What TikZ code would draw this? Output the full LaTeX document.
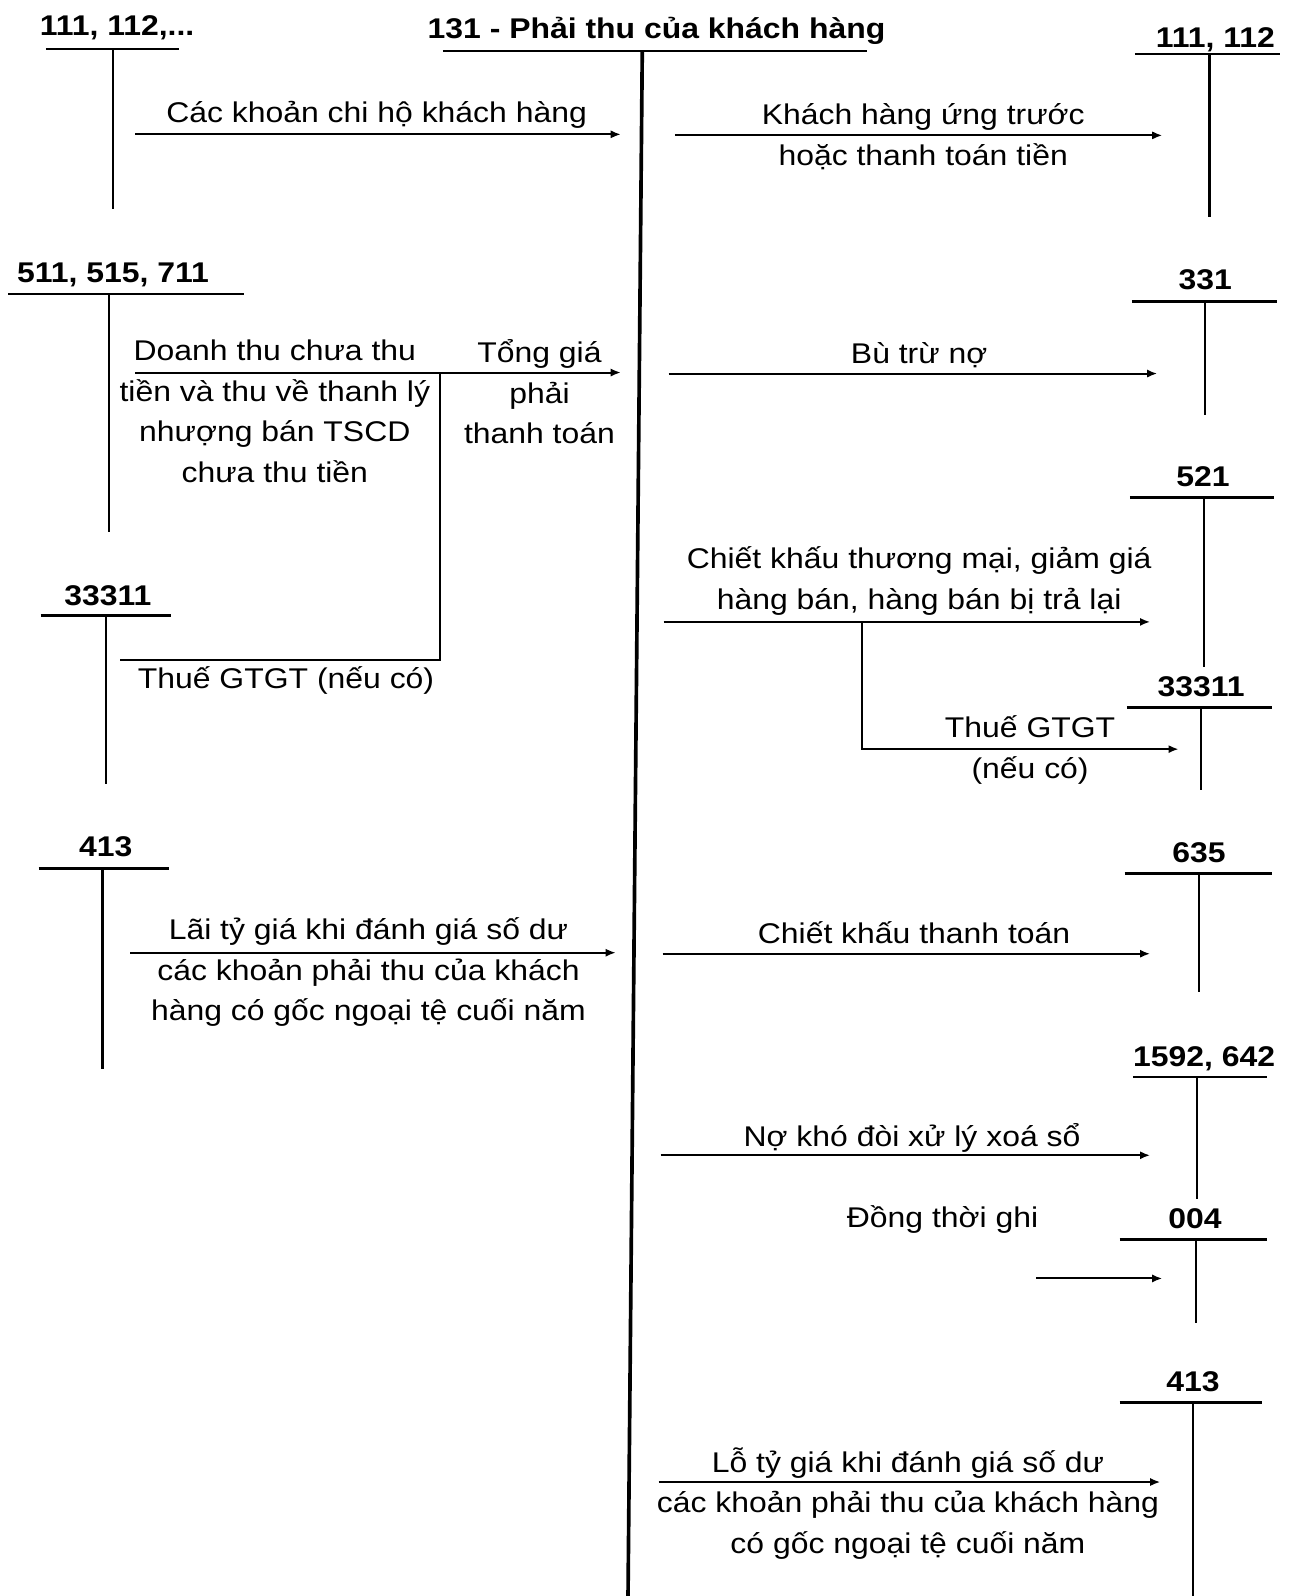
\documentclass[tikz,border=0pt]{standalone}
\usepackage{fontspec}
\setmainfont[FakeStretch=1.12]{Liberation Sans}
\usetikzlibrary{arrows.meta}
\newcommand\TAcct[9]{%
  \node[acct] (#1) at (#3,#4) {#2};
  \coordinate (#1-l) at (#5,#7);
  \coordinate (#1-r) at (#6,#7);
  \coordinate (#1-t) at (#8,#7);
  \coordinate (#1-b) at (#8,#9);
  \draw[tline] (#1-l) -- (#1-r);
  \draw[tline] (#1-t) -- (#1-b);
}
\begin{document}
\begin{tikzpicture}[x=0.5pt,y=-0.5pt,
  acct/.style={font=\fontsize{14pt}{20pt}\selectfont\bfseries, anchor=base, inner sep=0pt},
  lbl/.style={font=\fontsize{14pt}{20pt}\selectfont, anchor=base, inner sep=0pt},
  mlbl/.style={font=\fontsize{14pt}{20pt}\selectfont, align=center, inner sep=0pt},
  tline/.style={line width=1.3pt},
  mainline/.style={line width=1.8pt},
  flow/.style={line width=1pt, -{Latex[length=5pt,width=4pt]}},
  branch/.style={line width=1pt}]
\useasboundingbox (0,0) rectangle (1268,1568);
\fill[white] (0,0) rectangle (1268,1568);

% main account 131
\node[acct] (h131) at (645,38) {131 - Phải thu của khách hàng};
\coordinate (m-l) at (435,50);
\coordinate (m-r) at (852,50);
\coordinate (m-t) at (631,50);
\coordinate (m-b) at (617,1568);
\draw[tline] (m-l) -- (m-r);
\draw[mainline] (m-t) -- (m-b);

% left accounts
\TAcct{t111L}{111, 112,...}{115}{35}{45}{176}{48}{111}{205}
\TAcct{t511}{511, 515, 711}{111}{278}{8}{240}{289}{107}{523}
\TAcct{t33311L}{33311}{106}{595}{40}{168}{605}{104}{770}
\TAcct{t413L}{413}{104}{841}{38}{166}{853}{101}{1050}

% right accounts
\TAcct{t111R}{111, 112}{1194}{47}{1115}{1258}{53}{1188}{213}
\TAcct{t331}{331}{1184}{284}{1112}{1255}{296}{1184}{408}
\TAcct{t521}{521}{1182}{478}{1110}{1252}{489}{1183}{655}
\TAcct{t33311R}{33311}{1180}{684}{1107}{1250}{695}{1180}{776}
\TAcct{t635}{635}{1178}{847}{1105}{1250}{858}{1178}{975}
\TAcct{t1592}{1592, 642}{1183}{1048}{1113}{1245}{1058}{1176}{1178}
\TAcct{t004}{004}{1174}{1207}{1100}{1245}{1218}{1175}{1300}
\TAcct{t413R}{413}{1172}{1367}{1100}{1240}{1378}{1172}{1568}

% left flows
\coordinate (a1s) at (133,132); \coordinate (a1e) at (610,132);
\draw[flow] (a1s) -- (a1e);
\node[lbl] (l1) at (370,120) {Các khoản chi hộ khách hàng};

\coordinate (a3s) at (133,366); \coordinate (a3e) at (610,366);
\draw[flow] (a3s) -- (a3e);
\coordinate (b3s) at (118,648); \coordinate (b3c) at (432,648); \coordinate (b3e) at (432,366);
\draw[branch] (b3s) -- (b3c) -- (b3e);
\node[mlbl] (l3) at (270,404) {Doanh thu chưa thu\\tiền và thu về thanh lý\\nhượng bán TSCD\\chưa thu tiền};
\node[mlbl] (l3b) at (530,385) {Tổng giá\\phải\\thanh toán};
\node[lbl] (l3c) at (281,676) {Thuế GTGT (nếu có)};

\coordinate (a6s) at (128,936); \coordinate (a6e) at (605,936);
\draw[flow] (a6s) -- (a6e);
\node[mlbl] (l6) at (362,955) {Lãi tỷ giá khi đánh giá số dư\\các khoản phải thu của khách\\hàng có gốc ngoại tệ cuối năm};

% right flows
\coordinate (a2s) at (663,133); \coordinate (a2e) at (1142,133);
\draw[flow] (a2s) -- (a2e);
\node[mlbl] (l2) at (907,134) {Khách hàng ứng trước\\hoặc thanh toán tiền};

\coordinate (a4s) at (657,367); \coordinate (a4e) at (1137,367);
\draw[flow] (a4s) -- (a4e);
\node[lbl] (l4) at (903,357) {Bù trừ nợ};

\coordinate (a5s) at (652,611); \coordinate (a5e) at (1130,611);
\draw[flow] (a5s) -- (a5e);
\node[mlbl] (l5) at (903,571) {Chiết khấu thương mại, giảm giá\\hàng bán, hàng bán bị trả lại};
\coordinate (b5s) at (847,611); \coordinate (b5c) at (847,736); \coordinate (b5e) at (1158,736);
\draw[flow] (b5s) -- (b5c) -- (b5e);
\node[mlbl] (l5b) at (1012,737) {Thuế GTGT\\(nếu có)};

\coordinate (a7s) at (651,937); \coordinate (a7e) at (1130,937);
\draw[flow] (a7s) -- (a7e);
\node[lbl] (l7) at (898,927) {Chiết khấu thanh toán};

\coordinate (a8s) at (649,1135); \coordinate (a8e) at (1130,1135);
\draw[flow] (a8s) -- (a8e);
\node[lbl] (l8) at (896,1126) {Nợ khó đòi xử lý xoá sổ};
\node[lbl] (l8b) at (926,1206) {Đồng thời ghi};

\coordinate (a9s) at (1018,1256); \coordinate (a9e) at (1142,1256);
\draw[flow] (a9s) -- (a9e);

\coordinate (a10s) at (647,1456); \coordinate (a10e) at (1140,1456);
\draw[flow] (a10s) -- (a10e);
\node[mlbl] (l10) at (892,1477) {Lỗ tỷ giá khi đánh giá số dư\\các khoản phải thu của khách hàng\\có gốc ngoại tệ cuối năm};
\end{tikzpicture}
\end{document}
